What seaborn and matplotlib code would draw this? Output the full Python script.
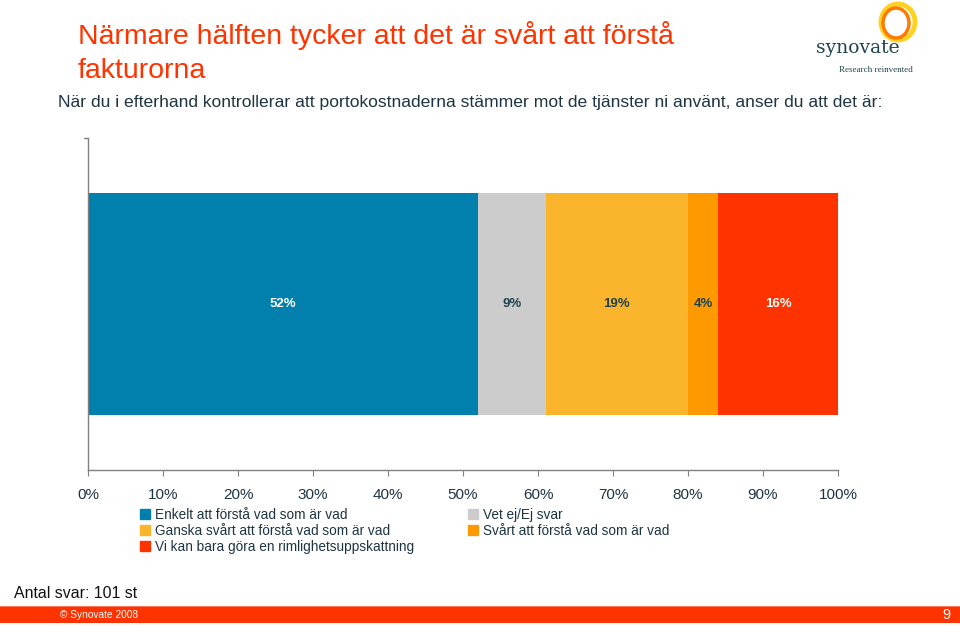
import matplotlib
matplotlib.use("Agg")
import matplotlib.pyplot as plt
import matplotlib.patches as mpatches
from matplotlib.ticker import FuncFormatter, MultipleLocator
import numpy as np
import pandas as pd
import seaborn as sns

# ---------------- data ----------------
kategorier = ['Enkelt att förstå vad som är vad',
              'Vet ej/Ej svar',
              'Ganska svårt att förstå vad som är vad',
              'Svårt att förstå vad som är vad',
              'Vi kan bara göra en rimlighetsuppskattning']
andelar = [52, 9, 19, 4, 16]
farger = ['#0180AE', '#CCCCCC', '#FBB52D', '#FF9900', '#FF3300']
etikett_farg = ['white', '#1E4450', '#1E4450', '#1E4450', 'white']

titel = 'Närmare hälften tycker att det är svårt att förstå\nfakturorna'
fraga = 'När du i efterhand kontrollerar att portokostnaderna stämmer mot de tjänster ni använt, anser du att det är:'
textfarg = '#1E3442'

sns.set_style('white')
plt.rcParams['font.family'] = ['Liberation Sans', 'DejaVu Sans']

fig = plt.figure(figsize=(9.6, 6.26), dpi=100)
ax = fig.add_axes([88/960, 1 - 470/626, 750/960, 332/626])

cum = np.cumsum(andelar)

# stacked bars: draw cumulative totals largest first so smaller ones sit on top
for i in reversed(range(len(andelar))):
    sns.barplot(x=[cum[i]], y=['alla'], color=farger[i], width=0.666,
                orient='h', ax=ax, saturation=1, linewidth=0)

for i, v in enumerate(andelar):
    mitt = cum[i] - v / 2
    ax.text(mitt, 0, f'{v}%', ha='center', va='center', fontsize=9.5,
            fontweight='bold', color=etikett_farg[i])

ax.set_xlim(0, 100)
ax.set_ylim(0.5, -0.5)
ax.set_ylabel('')
ax.set_xlabel('')
ax.set_yticks([])
ax.xaxis.set_major_locator(MultipleLocator(10))
ax.xaxis.set_major_formatter(FuncFormatter(lambda x, p: f'{int(round(x))}%'))
ax.tick_params(axis='x', length=4, width=0.8, color='#808080', labelsize=11,
               labelcolor=textfarg, pad=9, bottom=True)
for s in ['top', 'right']:
    ax.spines[s].set_visible(False)
for s in ['left', 'bottom']:
    ax.spines[s].set_color('#808080')
    ax.spines[s].set_linewidth(1.0)
# small tick at top of y-axis
ax.plot([-0.6, 0], [-0.5, -0.5], color='#808080', lw=1, clip_on=False)

# legend
handles = [mpatches.Patch(color=farger[i]) for i in [0, 2, 4, 1, 3]]
labels = [kategorier[i] for i in [0, 2, 4, 1, 3]]
fig.legend(handles, labels, ncol=2, loc='upper left', bbox_to_anchor=(140/960, 1 - 508/626),
           frameon=False, fontsize=9.8, handlelength=0.75, handleheight=0.75,
           handletextpad=0.35, labelspacing=0.13, columnspacing=3.95, borderaxespad=0,
           borderpad=0, labelcolor=textfarg)

# titles
fig.text(78/960, 1 - 21/626, titel, ha='left', va='top', fontsize=20.5, color='#FF3300',
         linespacing=1.4)
fig.text(58/960, 1 - 103/626, fraga, ha='left', va='center', fontsize=12.6, color=textfarg)

# footer
fig.text(14/960, 1 - 593/626, 'Antal svar: 101 st', ha='left', va='center', fontsize=11.4,
         color='#111111')
fig.patches.append(mpatches.Rectangle((0, 1 - 623/626), 1, 17/626, transform=fig.transFigure,
                                      facecolor='#FF3300', edgecolor='none'))
fig.patches.append(mpatches.Rectangle((0, 1 - 607/626), 1, 1.5/626, transform=fig.transFigure,
                                      facecolor='#FF7755', edgecolor='none'))
fig.text(60/960, 1 - 615/626, '© Synovate 2008', ha='left', va='center', fontsize=7.3,
         color='white')
fig.text(946/960, 1 - 615/626, '9', ha='center', va='center', fontsize=10.5, color='white')

# logo
lx, ly = 898/960, 1 - 22/626
fig.patches.append(mpatches.Ellipse((lx, ly), 34/960, 36/626, transform=fig.transFigure,
                                    facecolor='none', edgecolor='#FFD21F', lw=3.5))
fig.patches.append(mpatches.Ellipse((lx - 2/960, ly - 1/626), 26/960, 30/626,
                                    transform=fig.transFigure, facecolor='none',
                                    edgecolor='#FF7A00', lw=2.5))
fig.text(858/960, 1 - 48/626, 'synovate', ha='center', va='center', fontsize=13.5,
         color='#1E4450', family='DejaVu Serif')
fig.text(876/960, 1 - 70/626, 'Research reinvented', ha='center', va='center', fontsize=6.5,
         color='#1E4450', family='Liberation Serif')

fig.savefig('out.png', dpi=100)
